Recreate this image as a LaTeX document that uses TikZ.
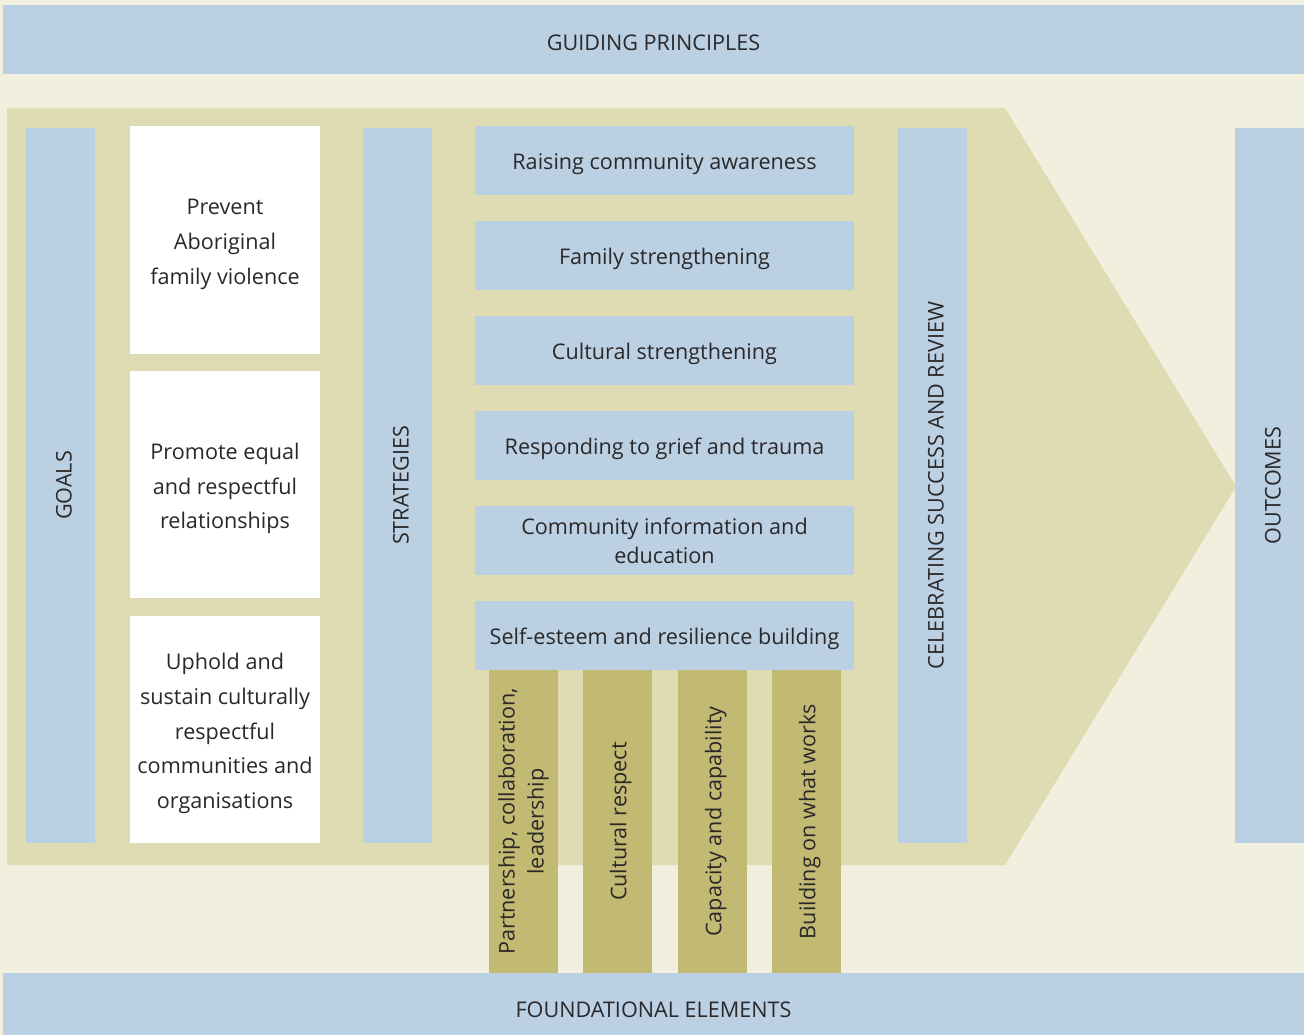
\documentclass[tikz,border=0pt]{standalone}
\usepackage{fontspec}
\setmainfont{Open Sans}
\definecolor{cream}{HTML}{F1EFDD}
\definecolor{paleblue}{HTML}{BBD0E3}
\definecolor{khaki}{HTML}{DFDBB2}
\definecolor{pillar}{HTML}{C2B972}
\definecolor{ink}{HTML}{2A2829}
% taller first line for the goal boxes, which lowers their text a little
\newcommand\goalgap{\rule{0pt}{1.13em}}
\begin{document}
\begin{tikzpicture}[x=1pt,y=-1pt,
  every node/.style={text=ink, inner sep=0pt, outer sep=0pt},
  % a tall first line keeps the text's optical middle on the box's middle
  lift/.style={execute at begin node={\rule{0pt}{#1}}},
  lift/.default=1.05em,
  txt/.style={font=\fontsize{21.6}{29}\selectfont, lift},
  band/.style={fill=paleblue, txt},
  vbar/.style={fill=paleblue, rotate=90, minimum width=715pt, minimum height=69pt, txt},
  goalbox/.style={fill=white, minimum width=190pt, minimum height=227pt, align=center,
    font=\fontsize{21.6}{34.7}\selectfont},
  stratbox/.style={fill=paleblue, minimum width=379pt, minimum height=69pt, align=center, txt},
  pillarbox/.style={fill=pillar, rotate=90, minimum width=303pt, minimum height=69pt, align=center,
    font=\fontsize{21.6}{29}\selectfont, lift}]
% canvas
\fill[cream] (0,0) rectangle (1304,1035);
\useasboundingbox (0,0) rectangle (1304,1035);

% top and bottom bands (the lower one runs on past the page edge)
\node[band, minimum width=1301pt, minimum height=69pt] (principles) at (653.5,39.5) {GUIDING PRINCIPLES};
\node[band, minimum width=1301pt, minimum height=66pt] (foundation) at (653.5,1006) {FOUNDATIONAL ELEMENTS};

% arrow body
\fill[khaki] (7,108) -- (1005,108) -- (1236,486.5) -- (1005,865) -- (7,865) -- cycle;

% vertical bars
\node[vbar] (goals) at (60.5,485.5) {GOALS};
\node[vbar] (strategies) at (397.5,485.5) {STRATEGIES};
\node[vbar] (celebrating) at (932.5,485.5) {CELEBRATING SUCCESS AND REVIEW};
\node[vbar] (outcomes) at (1269.5,485.5) {OUTCOMES};

% goals
\node[goalbox] (g1) at (225,240) {\goalgap Prevent\\Aboriginal\\family violence};
\node[goalbox] (g2) at (225,484.5) {\goalgap Promote equal\\and respectful\\relationships};
\node[goalbox] (g3) at (225,729.5) {\goalgap Uphold and\\sustain culturally\\respectful\\communities and\\organisations};

% foundational pillars
\node[pillarbox] (p1) at (523.5,821.5) {Partnership, collaboration,\\leadership};
\node[pillarbox] (p2) at (617.5,821.5) {Cultural respect};
\node[pillarbox] (p3) at (712.5,821.5) {Capacity and capability};
\node[pillarbox] (p4) at (806.5,821.5) {Building on what works};

% strategies
\node[stratbox] (s1) at (664.5,160.5) {Raising community awareness};
\node[stratbox] (s2) at (664.5,255.5) {Family strengthening};
\node[stratbox] (s3) at (664.5,350.5) {Cultural strengthening};
\node[stratbox] (s4) at (664.5,445.5) {Responding to grief and trauma};
\node[stratbox] (s5) at (664.5,540.5) {Community information and\\education};
\node[stratbox] (s6) at (664.5,635.5) {Self-esteem and resilience building};
\end{tikzpicture}
\end{document}
